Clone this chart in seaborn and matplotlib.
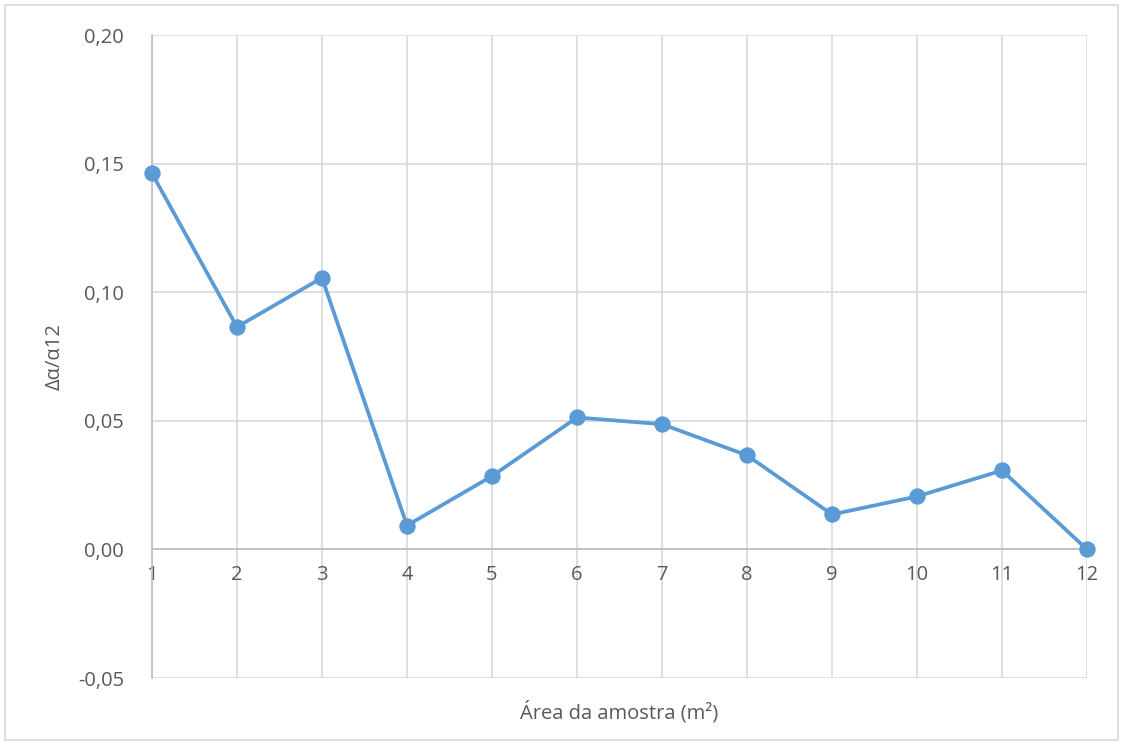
import numpy as np
import pandas as pd
import matplotlib
matplotlib.use("Agg")
import matplotlib.pyplot as plt
from matplotlib.patches import Rectangle
import seaborn as sns

# Data
areas = [1, 2, 3, 4, 5, 6, 7, 8, 9, 10, 11, 12]
ratio = [0.1462, 0.0865, 0.1056, 0.0093, 0.0285, 0.0513, 0.0487, 0.0366,
         0.0136, 0.0206, 0.0307, 0.0]
y_ticks = [-0.05, 0.0, 0.05, 0.10, 0.15, 0.20]

sns.set_theme(style="white")
plt.rcParams["font.family"] = ["Open Sans", "DejaVu Sans"]

text_color = "#595959"
line_color = "#5B9BD5"

fig = plt.figure(figsize=(11.24, 7.45), dpi=100)
ax = fig.add_axes([0.1352, 0.0899, 0.8319, 0.8631])

# outer chart border
fig.patches.append(Rectangle((5 / 1124, 5 / 745), 1113 / 1124, 735 / 745,
                             transform=fig.transFigure, fill=False,
                             edgecolor="#d9d9d9", linewidth=1.2))

df = pd.DataFrame({"area": areas, "ratio": ratio})
sns.lineplot(data=df, x="area", y="ratio", ax=ax, color=line_color,
             linewidth=2.7, marker="o", markersize=11,
             markeredgecolor=line_color, clip_on=False, zorder=5)

ax.set_xlim(1, 12)
ax.set_ylim(-0.05, 0.20)
ax.set_xticks(areas)
ax.set_xticklabels([str(a) for a in areas])
ax.set_yticks(y_ticks)
ax.set_yticklabels([f"{v:.2f}".replace(".", ",") for v in y_ticks])

ax.grid(True, color="#d9d9d9", linewidth=1.2)
ax.set_axisbelow(True)
for side in ["top", "right"]:
    ax.spines[side].set_visible(False)
ax.spines["bottom"].set_position(("data", 0))
ax.spines["bottom"].set_color("#bfbfbf")
ax.spines["bottom"].set_linewidth(1.2)
ax.spines["left"].set_color("#bfbfbf")
ax.spines["left"].set_linewidth(1.2)

ax.tick_params(axis="both", length=0, labelsize=14.5, colors=text_color)
ax.tick_params(axis="y", pad=20)
ax.tick_params(axis="x", pad=11)

ax.set_xlabel("Área da amostra (m²)", fontsize=14.5, color=text_color)
ax.set_ylabel("Δα/α12", fontsize=14.5, color=text_color)
ax.xaxis.set_label_coords(0.5, -0.035)
ax.yaxis.set_label_coords(-0.093, 0.5)

fig.savefig("out.png", dpi=100)
plt.close(fig)
